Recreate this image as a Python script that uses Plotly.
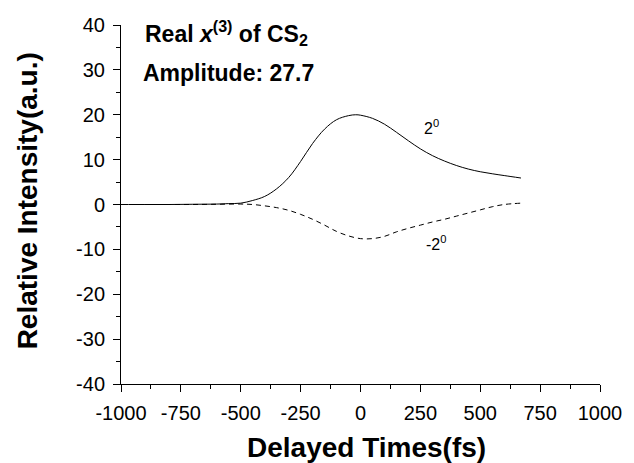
import plotly.graph_objects as go

# Delay times (fs)
x_pos = [-1000, -900, -800, -700, -600, -550, -500, -450, -400, -350, -300, -250, -200,
         -150, -100, -50, -20, 0, 50, 100, 150, 200, 250, 300, 350, 400, 450, 500, 550, 600, 670]
y_pos = [0, 0, 0, 0.05, 0.1, 0.2, 0.3, 0.9, 1.8, 3.5, 6.0, 9.6, 13.6,
         16.8, 18.9, 19.8, 20.0, 19.9, 19.2, 17.9, 16.1, 14.2, 12.4, 10.9, 9.7, 8.7, 7.9, 7.3, 6.85, 6.45, 5.9]

x_neg = [-1000, -900, -800, -700, -600, -500, -450, -400, -350, -300, -250, -200, -150,
         -100, -50, 0, 50, 100, 150, 200, 250, 300, 350, 400, 450, 500, 550, 600, 670]
y_neg = [0, 0, 0, 0, 0.05, 0.1, 0.0, -0.3, -0.7, -1.3, -2.2, -3.3, -4.6,
         -6.0, -7.0, -7.6, -7.6, -7.1, -6.1, -5.3, -4.6, -3.9, -3.3, -2.6, -1.9, -1.2, -0.5, 0.0, 0.3]

x_ticks = [-1000, -750, -500, -250, 0, 250, 500, 750, 1000]
x_ticklabels = ["-1000", "-750", "-500", "-250", "0", "250", "500", "750", "1000"]
y_ticks = [-40, -30, -20, -10, 0, 10, 20, 30, 40]
y_ticklabels = ["-40", "-30", "-20", "-10", "0", "10", "20", "30", "40"]

label_pos = "2<sup>0</sup>"
label_neg = "-2<sup>0</sup>"
title_line1 = "Real <i>x</i><sup>(3)</sup> of CS<sub>2</sub>"
title_line2 = "Amplitude: 27.7"
x_title = "Delayed Times(fs)"
y_title = "Relative Intensity(a.u.)"

FONT = "Liberation Sans, Arial, sans-serif"

fig = go.Figure()
fig.add_trace(go.Scatter(x=x_pos, y=y_pos, mode="lines",
                         line=dict(color="black", width=1, shape="spline"), showlegend=False))
fig.add_trace(go.Scatter(x=x_neg, y=y_neg, mode="lines",
                         line=dict(color="black", width=1, dash="5px,4px", shape="spline"),
                         showlegend=False))

fig.update_layout(
    width=634, height=463,
    margin=dict(l=121, r=27, t=25, b=79),
    paper_bgcolor="white", plot_bgcolor="white",
    font=dict(family=FONT, color="black", size=20),
)

axis_common = dict(
    showline=True, linecolor="black", linewidth=1, mirror=False,
    ticks="outside", ticklen=7, tickwidth=1, tickcolor="black",
    showgrid=False, zeroline=False,
    tickfont=dict(family=FONT, size=20, color="black"),
    ticklabelstandoff=4,
)
fig.update_xaxes(range=[-1000, 1000], tickvals=x_ticks, ticktext=x_ticklabels,
                 minor=dict(tick0=-1000, dtick=125, ticklen=4, ticks="outside", tickcolor="black"),
                 **axis_common)
fig.update_yaxes(range=[-40, 40], tickvals=y_ticks, ticktext=y_ticklabels,
                 minor=dict(tick0=-40, dtick=5, ticklen=4, ticks="outside", tickcolor="black"),
                 **axis_common)

fig.add_annotation(text="<b>" + title_line1 + "</b>", xref="paper", yref="paper",
                   x=(143 - 121) / 486, y=(384 - 15) / 359, xanchor="left", yanchor="top",
                   showarrow=False, font=dict(family=FONT, size=23, color="black"))
fig.add_annotation(text="<b>" + title_line2 + "</b>", xref="paper", yref="paper",
                   x=(141 - 121) / 486, y=(384 - 58) / 359, xanchor="left", yanchor="top",
                   showarrow=False, font=dict(family=FONT, size=23, color="black"))

fig.add_annotation(text=label_pos, x=296, y=17.3, xref="x", yref="y", showarrow=False,
                   font=dict(family=FONT, size=16, color="black"))
fig.add_annotation(text=label_neg, x=314, y=-8.6, xref="x", yref="y", showarrow=False,
                   font=dict(family=FONT, size=16, color="black"))

fig.add_annotation(text="<b>" + x_title + "</b>", xref="paper", yref="paper",
                   x=(370 - 121) / 486, y=(384 - 447) / 359, xanchor="center", yanchor="middle",
                   showarrow=False, font=dict(family=FONT, size=28, color="black"))
fig.add_annotation(text="<b>" + y_title + "</b>", xref="paper", yref="paper",
                   x=(26 - 121) / 486, y=(384 - 201) / 359, xanchor="center", yanchor="middle",
                   textangle=-90, showarrow=False, font=dict(family=FONT, size=28, color="black"))

fig.write_html("out.html")
